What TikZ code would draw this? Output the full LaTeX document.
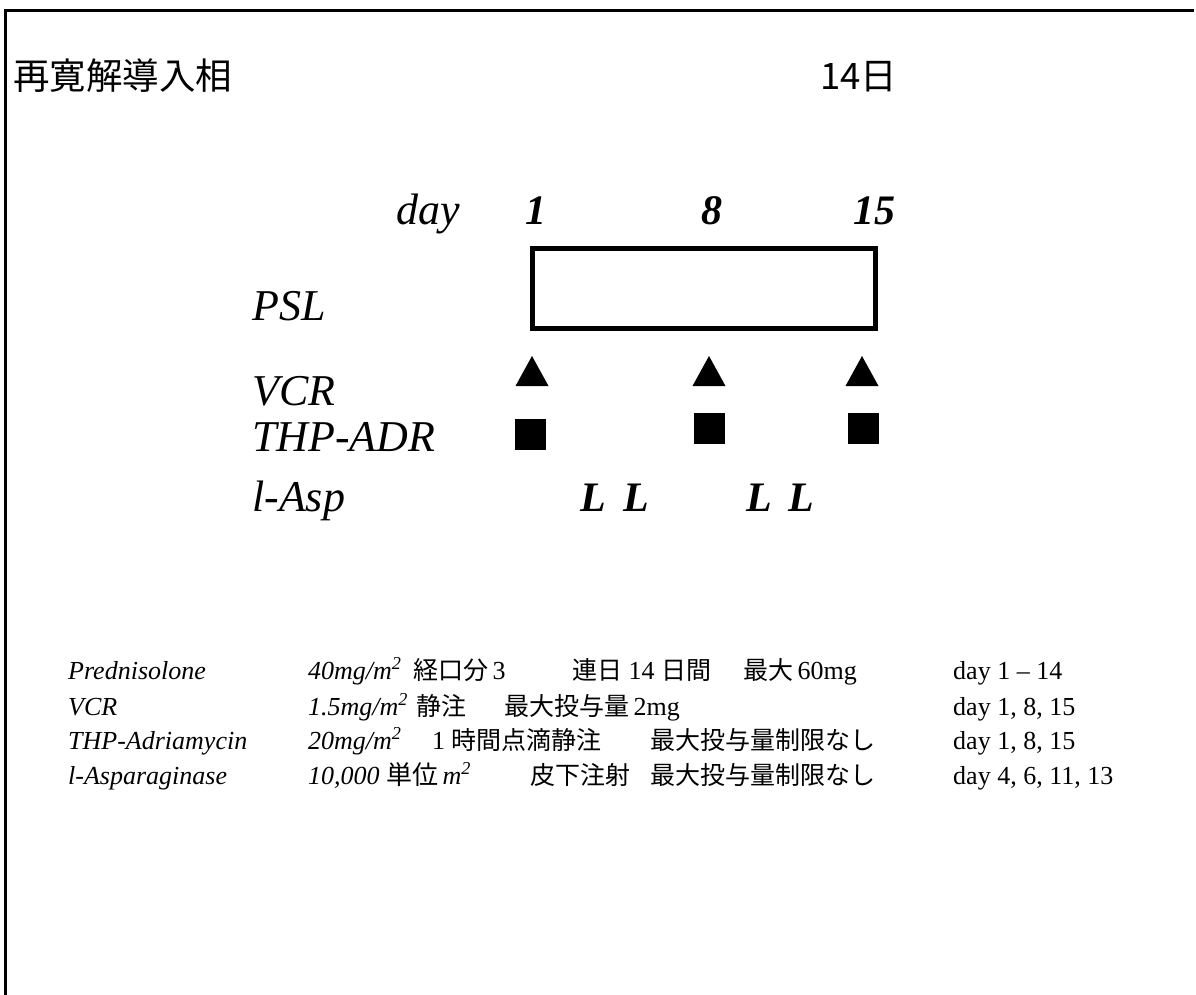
\documentclass[tikz,border=0pt]{standalone}
\usepackage{fontspec}
\setmainfont{Liberation Serif}
\newfontfamily\jp{Noto Sans CJK JP}
\begin{document}
\begin{tikzpicture}[x=1pt,y=-1pt,
  title/.style={anchor=base west, inner sep=0pt, font=\jp\fontsize{36.5}{40}\selectfont},
  lbl/.style={anchor=base west, inner sep=0pt, font=\fontsize{44}{48}\selectfont\itshape},
  num/.style={anchor=base, inner sep=0pt, font=\fontsize{42}{48}\selectfont\bfseries\itshape},
  tbl/.style={anchor=base west, inner sep=0pt, font=\fontsize{26}{30}\selectfont},
  tbli/.style={tbl, font=\fontsize{26}{30}\selectfont\itshape},
  tblj/.style={tbl, font=\jp\fontsize{25}{30}\selectfont},
  sq/.style={fill=black, draw=none, inner sep=0pt, minimum width=31pt, minimum height=31pt},
  pslbox/.style={draw=black, line width=5pt, inner sep=0pt, minimum width=343pt, minimum height=80pt}
]
\useasboundingbox (0,0) rectangle (1196,995);
% frame
\draw[line width=3pt] (5.5,995) -- (5.5,10.5) -- (1194,10.5);

% header
\node[title] (ttl) at (13,90) {再寛解導入相};
\node[title] (days) at (820,90) {14日};

% timeline
\node[lbl] (day) at (396,225) {day};
\node[num] (d1) at (536,225) {1};
\node[num] (d8) at (712,225) {8};
\node[num] (d15) at (874,225) {15};

\node[lbl] (psl) at (252,320) {PSL};
\node[pslbox] (box) at (704,288.5) {};

\node[lbl] (vcr) at (252,405) {VCR};
\node[lbl] (thp) at (252,451) {THP-ADR};
\node[lbl] (asp) at (252,511) {l-Asp};

% triangles (VCR)
\fill (532,356) -- (548.5,386) -- (515.5,386) -- cycle;
\fill (709,356) -- (725.5,386) -- (692.5,386) -- cycle;
\fill (862,356) -- (878.5,386) -- (845.5,386) -- cycle;

% squares (THP-ADR)
\node[sq] (s1) at (530.5,434) {};
\node[sq] (s2) at (709,428) {};
\node[sq] (s3) at (863,428) {};

% L-Asp
\node[num] (l1) at (593,511) {L};
\node[num] (l2) at (636,511) {L};
\node[num] (l3) at (759,511) {L};
\node[num] (l4) at (801,511) {L};

% table
\node[tbli] (r1a) at (68,679) {Prednisolone};
\node[tbli] (r1b) at (308,679) {40mg/m\textsuperscript{2}};
\node[tbl] (r1c) at (413,679) {{\jp\fontsize{25}{30}\selectfont 経口分}\,3};
\node[tbl] (r1d) at (572,679) {{\jp\fontsize{25}{30}\selectfont 連日} 14 {\jp\fontsize{25}{30}\selectfont 日間}};
\node[tbl] (r1e) at (743,679) {{\jp\fontsize{25}{30}\selectfont 最大}\,60mg};
\node[tbl] (r1f) at (953,679) {day 1 -- 14};

\node[tbli] (r2a) at (68,715) {VCR};
\node[tbli] (r2b) at (308,715) {1.5mg/m\textsuperscript{2}};
\node[tblj] (r2c) at (416,715) {静注};
\node[tbl] (r2d) at (504,715) {{\jp\fontsize{25}{30}\selectfont 最大投与量}\,2mg};
\node[tbl] (r2f) at (953,715) {day 1, 8, 15};

\node[tbli] (r3a) at (68,749) {THP-Adriamycin};
\node[tbli] (r3b) at (308,749) {20mg/m\textsuperscript{2}};
\node[tbl] (r3c) at (432,749) {1 {\jp\fontsize{25}{30}\selectfont 時間点滴静注}};
\node[tblj] (r3d) at (650,749) {最大投与量制限なし};
\node[tbl] (r3f) at (953,749) {day 1, 8, 15};

\node[tbli] (r4a) at (68,784) {l-Asparaginase};
\node[tbli] (r4b) at (308,784) {10,000 {\jp\fontsize{26}{30}\selectfont 単位}\,m\textsuperscript{2}};
\node[tblj] (r4c) at (530,784) {皮下注射};
\node[tblj] (r4d) at (650,784) {最大投与量制限なし};
\node[tbl] (r4f) at (953,784) {day 4, 6, 11, 13};
\end{tikzpicture}
\end{document}
